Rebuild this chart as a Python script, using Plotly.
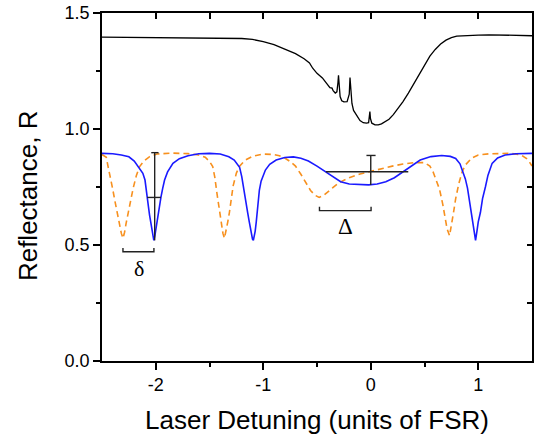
import plotly.graph_objects as go

# ---- measured (black) reflectance, offset ----
meas_x = [-2.50, -2.30, -2.10, -1.90, -1.70, -1.50, -1.30, -1.20, -1.10, -1.00, -0.90, -0.80,
          -0.70, -0.62, -0.57, -0.54, -0.50, -0.45, -0.41, -0.38, -0.36, -0.35, -0.33, -0.315,
          -0.305, -0.300, -0.295, -0.285, -0.27, -0.25, -0.22, -0.20, -0.193, -0.186, -0.175,
          -0.16, -0.13, -0.10, -0.07, -0.04, -0.02, -0.012, -0.008, -0.003, 0.01, 0.04, 0.07,
          0.10, 0.13, 0.17, 0.21, 0.25, 0.30, 0.35, 0.40, 0.45, 0.50, 0.55, 0.60, 0.65, 0.70,
          0.75, 0.80, 0.90, 1.00, 1.10, 1.20, 1.30, 1.40, 1.50]
meas_y = [1.396, 1.395, 1.393, 1.393, 1.392, 1.393, 1.392, 1.390, 1.386, 1.377, 1.364, 1.346,
          1.325, 1.303, 1.285, 1.262, 1.240, 1.220, 1.195, 1.178, 1.176, 1.165, 1.155, 1.160,
          1.200, 1.232, 1.200, 1.140, 1.122, 1.117, 1.118, 1.150, 1.222, 1.180, 1.110,
          1.080, 1.055, 1.036, 1.027, 1.025, 1.027, 1.050, 1.075, 1.045, 1.025, 1.018, 1.018,
          1.022, 1.030, 1.042, 1.062, 1.085, 1.118, 1.155, 1.195, 1.237, 1.278, 1.314, 1.343,
          1.366, 1.383, 1.394, 1.400, 1.404, 1.405, 1.406, 1.405, 1.404, 1.403, 1.402]

# ---- blue (solid) model curve ----
blue_x = [-2.50, -2.40, -2.32, -2.25, -2.20, -2.16, -2.12, -2.10, -2.085, -2.078, -2.068, -2.058,
          -2.048, -2.038, -2.028, -2.018, -2.008, -1.998, -1.985, -1.972, -1.952, -1.935, -1.918,
          -1.89, -1.84, -1.78, -1.70, -1.60, -1.50, -1.40, -1.32, -1.27, -1.24, -1.22, -1.20,
          -1.18, -1.16, -1.145, -1.13, -1.115, -1.10, -1.092, -1.083, -1.075, -1.065, -1.05,
          -1.036, -1.02, -1.00, -0.98, -0.94, -0.88, -0.80, -0.72, -0.65, -0.58, -0.50, -0.42,
          -0.35, -0.28, -0.20, -0.10, -0.02, 0.06, 0.14, 0.22, 0.30, 0.38, 0.46, 0.56, 0.66,
          0.74, 0.79, 0.83, 0.86, 0.88, 0.90, 0.92, 0.935, 0.95, 0.962, 0.975, 0.988, 1.00,
          1.02, 1.04, 1.067, 1.09, 1.129, 1.18, 1.25, 1.35, 1.50]
blue_y = [0.895, 0.893, 0.888, 0.880, 0.862, 0.838, 0.809, 0.780, 0.735, 0.705, 0.665, 0.630,
          0.600, 0.575, 0.545, 0.520, 0.540, 0.570, 0.615, 0.660, 0.705, 0.745, 0.780,
          0.815, 0.852, 0.872, 0.885, 0.893, 0.895, 0.892, 0.880, 0.866, 0.850, 0.835, 0.795,
          0.745, 0.690, 0.640, 0.600, 0.555, 0.525, 0.520, 0.535, 0.560, 0.600, 0.670,
          0.737, 0.775, 0.800, 0.823, 0.848, 0.866, 0.877, 0.880, 0.874, 0.862, 0.840, 0.815,
          0.792, 0.773, 0.763, 0.759, 0.759, 0.763, 0.773, 0.790, 0.815, 0.843, 0.866, 0.881, 0.886,
          0.882, 0.873, 0.850, 0.815, 0.785, 0.745, 0.690, 0.645, 0.595, 0.555, 0.520, 0.560, 0.600,
          0.640, 0.700, 0.751, 0.800, 0.852, 0.875, 0.888, 0.893, 0.895]

# ---- orange (dashed) model curve ----
orange_x = [-2.50, -2.46, -2.44, -2.42, -2.40, -2.38, -2.36, -2.34, -2.32, -2.305, -2.29, -2.275,
            -2.26, -2.24, -2.21, -2.18, -2.15, -2.11, -2.06, -1.99, -1.85, -1.70, -1.60, -1.54,
            -1.50, -1.47, -1.45, -1.43, -1.41, -1.39, -1.375, -1.361, -1.345, -1.33, -1.315,
            -1.30, -1.28, -1.25, -1.22, -1.17, -1.10, -1.00, -0.90, -0.85, -0.80, -0.75, -0.70,
            -0.65, -0.60, -0.56, -0.52, -0.48, -0.44, -0.40, -0.35, -0.29, -0.20, -0.10, 0.00,
            0.10, 0.20, 0.30, 0.40, 0.50, 0.55, 0.58, 0.61, 0.64, 0.67, 0.69, 0.71, 0.733, 0.75,
            0.77, 0.79, 0.82, 0.85, 0.88, 0.94, 1.00, 1.10, 1.30, 1.40, 1.45, 1.48, 1.50]
orange_y = [0.890, 0.878, 0.830, 0.790, 0.740, 0.690, 0.640, 0.595, 0.550, 0.529, 0.555, 0.595,
            0.630, 0.690, 0.745, 0.800, 0.838, 0.862, 0.880, 0.892, 0.896, 0.894, 0.888, 0.878,
            0.860, 0.838, 0.790, 0.720, 0.650, 0.590, 0.550, 0.529, 0.560, 0.600, 0.640,
            0.700, 0.755, 0.810, 0.840, 0.865, 0.882, 0.892, 0.890, 0.885, 0.875, 0.860, 0.840,
            0.805, 0.765, 0.735, 0.715, 0.705, 0.713, 0.730, 0.748, 0.770, 0.790, 0.806, 0.818,
            0.830, 0.840, 0.849, 0.855, 0.855, 0.840, 0.815, 0.780, 0.740, 0.675, 0.620, 0.570,
            0.540, 0.580, 0.640, 0.700, 0.766, 0.815, 0.845, 0.875, 0.888, 0.893, 0.895, 0.888,
            0.872, 0.855, 0.840]

# ---- annotation markers (depth/width bars and spacing brackets) ----
bar1_x = [-2.01, -2.01, None, -2.042, -1.974, None, -2.08, -1.952]
bar1_y = [0.520, 0.898, None, 0.898, 0.898, None, 0.705, 0.705]
bar2_x = [0.0, 0.0, None, -0.04, 0.045, None, -0.417, 0.349]
bar2_y = [0.759, 0.886, None, 0.886, 0.886, None, 0.816, 0.816]
small_bracket_x = [-2.305, -2.305, -2.017, -2.017]
small_bracket_y = [0.487, 0.471, 0.471, 0.487]
big_bracket_x = [-0.477, -0.477, 0.003, 0.003]
big_bracket_y = [0.665, 0.648, 0.648, 0.665]
labels_text = ["δ", "Δ"]
labels_x = [-2.16, -0.235]
labels_y = [0.400, 0.578]

fig = go.Figure()
fig.add_trace(go.Scatter(x=meas_x, y=meas_y, mode="lines",
                         line=dict(color="black", width=1.3), showlegend=False))
fig.add_trace(go.Scatter(x=orange_x, y=orange_y, mode="lines",
                         line=dict(color="#f7901e", width=1.6, dash="6px,4px"), showlegend=False))
fig.add_trace(go.Scatter(x=blue_x, y=blue_y, mode="lines",
                         line=dict(color="#1a1aff", width=1.6), showlegend=False))
for bx, by in [(bar1_x, bar1_y), (bar2_x, bar2_y),
               (small_bracket_x, small_bracket_y), (big_bracket_x, big_bracket_y)]:
    fig.add_trace(go.Scatter(x=bx, y=by, mode="lines", connectgaps=False,
                             line=dict(color="#222222", width=1.4), showlegend=False))
# dummy trace for the mirrored (top/right) axes
fig.add_trace(go.Scatter(x=[None], y=[None], xaxis="x2", yaxis="y2", showlegend=False))

fig.add_annotation(x=labels_x[0], y=labels_y[0], text=labels_text[0], showarrow=False,
                   font=dict(family="Liberation Serif", size=22, color="black"))
fig.add_annotation(x=labels_x[1], y=labels_y[1], text=labels_text[1], showarrow=False,
                   font=dict(family="Liberation Serif", size=23, color="black"))

fig.add_annotation(xref="paper", yref="paper", x=0.5, y=-0.1695, yanchor="middle",
                   text="Laser Detuning (units of FSR)", showarrow=False,
                   font=dict(family="Arial, Liberation Sans", size=26, color="black"))
fig.add_annotation(xref="paper", yref="paper", x=-0.172, y=0.474, xanchor="center",
                   yanchor="middle", textangle=-90, text="Reflectance, R", showarrow=False,
                   font=dict(family="Arial, Liberation Sans", size=26, color="black"))

axis_font = dict(family="Arial, Liberation Sans", size=18, color="black")
fig.update_layout(
    width=542, height=440,
    margin=dict(l=102, r=10, t=13, b=79, autoexpand=False),
    paper_bgcolor="white", plot_bgcolor="white",
    xaxis=dict(range=[-2.5, 1.5], tickvals=[-2, -1, 0, 1], ticktext=["-2", "-1", "0", "1"],
               ticks="outside", ticklen=7, tickwidth=1.5, tickcolor="black",
               minor=dict(tickvals=[-1.5, -0.5, 0.5], ticks="outside", ticklen=4,
                          tickwidth=1.5, tickcolor="black"),
               showline=True, linewidth=1.6, linecolor="black", showgrid=False,
               zeroline=False, tickfont=axis_font, automargin=False),
    yaxis=dict(range=[0, 1.5], tickvals=[0, 0.5, 1.0, 1.5],
               ticktext=["0.0", "0.5", "1.0", "1.5"],
               ticks="outside", ticklen=7, tickwidth=1.5, tickcolor="black",
               minor=dict(tickvals=[0.25, 0.75, 1.25], ticks="outside", ticklen=4,
                          tickwidth=1.5, tickcolor="black"),
               showline=True, linewidth=1.6, linecolor="black", showgrid=False,
               zeroline=False, tickfont=axis_font, automargin=False),
    xaxis2=dict(overlaying="x", side="top", range=[-2.5, 1.5],
                tickvals=[-2, -1.5, -1, -0.5, 0, 0.5, 1], showticklabels=False,
                ticks="inside", ticklen=6, tickwidth=1.5, tickcolor="black",
                showline=True, linewidth=1.6, linecolor="black", showgrid=False,
                zeroline=False, automargin=False),
    yaxis2=dict(overlaying="y", side="right", range=[0, 1.5],
                tickvals=[0.25, 0.5, 0.75, 1.0, 1.25], showticklabels=False,
                ticks="inside", ticklen=5, tickwidth=1.5, tickcolor="black",
                showline=True, linewidth=1.6, linecolor="black", showgrid=False,
                zeroline=False, automargin=False),
)

# remove the browser's default 8px page margin so the figure sits at the window origin
fig.write_html("out.html", config={"displayModeBar": False},
               post_script="document.body.style.margin='0px';")
